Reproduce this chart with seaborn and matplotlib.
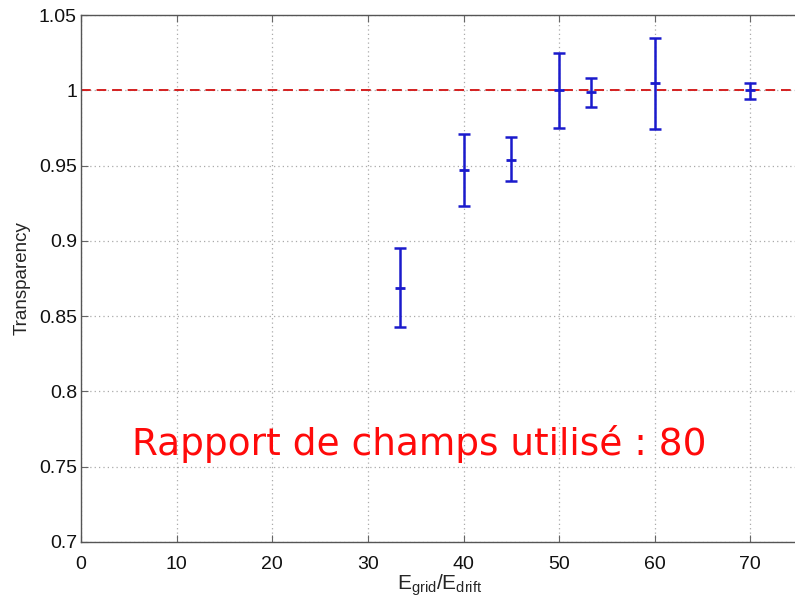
import matplotlib
matplotlib.use("Agg")
import matplotlib.pyplot as plt
import seaborn as sns
import numpy as np
import pandas as pd

# Field ratio E_grid / E_drift and measured transparency
field_ratio = [33.33, 40, 45, 50, 53.33, 60, 70]
transparency = [0.869, 0.947, 0.954, 1.000, 0.999, 1.005, 1.000]
err_low = [0.026, 0.024, 0.014, 0.025, 0.010, 0.031, 0.006]
err_high = [0.026, 0.024, 0.015, 0.025, 0.009, 0.030, 0.005]

x_ticks = [0, 10, 20, 30, 40, 50, 60, 70]
y_ticks = [0.7, 0.75, 0.8, 0.85, 0.9, 0.95, 1.0, 1.05]
y_tick_labels = ["0.7", "0.75", "0.8", "0.85", "0.9", "0.95", "1", "1.05"]

df = pd.DataFrame({"ratio": field_ratio, "T": transparency})

sns.set_style("white")
plt.rcParams["font.family"] = ["Liberation Sans", "DejaVu Sans"]

fig = plt.figure(figsize=(7.95, 6.02), dpi=100)
ax = fig.add_axes([0.102, 0.0997, 0.902, 0.8753])

blue = "#1a1acc"
ax.errorbar(df["ratio"], df["T"], yerr=[err_low, err_high], fmt="none",
            ecolor=blue, elinewidth=1.8, capsize=4, capthick=1.8, zorder=3)
sns.scatterplot(data=df, x="ratio", y="T", marker="_", s=50, color=blue,
                linewidth=2, ax=ax, zorder=4, legend=False)

ax.axhline(1.0, color="#d42020", linestyle=(0, (5, 3)), linewidth=1.4, zorder=2)

ax.set_xlim(0, 75)
ax.set_ylim(0.7, 1.05)
ax.set_xticks(x_ticks)
ax.set_yticks(y_ticks)
ax.set_yticklabels(y_tick_labels)
ax.grid(True, linestyle=(0, (1, 2.5)), color="#aaaaaa", linewidth=0.9)
ax.tick_params(direction="in", length=5, color="#666666", labelsize=14,
               labelcolor="#111111", top=True, bottom=True, left=True,
               right=False, pad=3)
ax.tick_params(axis="x", pad=10)
for side in ["left", "bottom", "top"]:
    ax.spines[side].set_visible(True)
    ax.spines[side].set_color("#555555")
    ax.spines[side].set_linewidth(1.0)
ax.spines["right"].set_visible(False)

ax.set_xlabel(r"$\mathregular{E_{grid}/E_{drift}}$", fontsize=15, labelpad=0)
ax.set_ylabel("Transparency", fontsize=13.5, labelpad=6)

ax.text(0.471, 0.185, "Rapport de champs utilisé : 80", transform=ax.transAxes,
        color="#ff0a0a", fontsize=27, ha="center", va="center",
        family=["DejaVu Sans"])

fig.savefig("out.png", dpi=100)
